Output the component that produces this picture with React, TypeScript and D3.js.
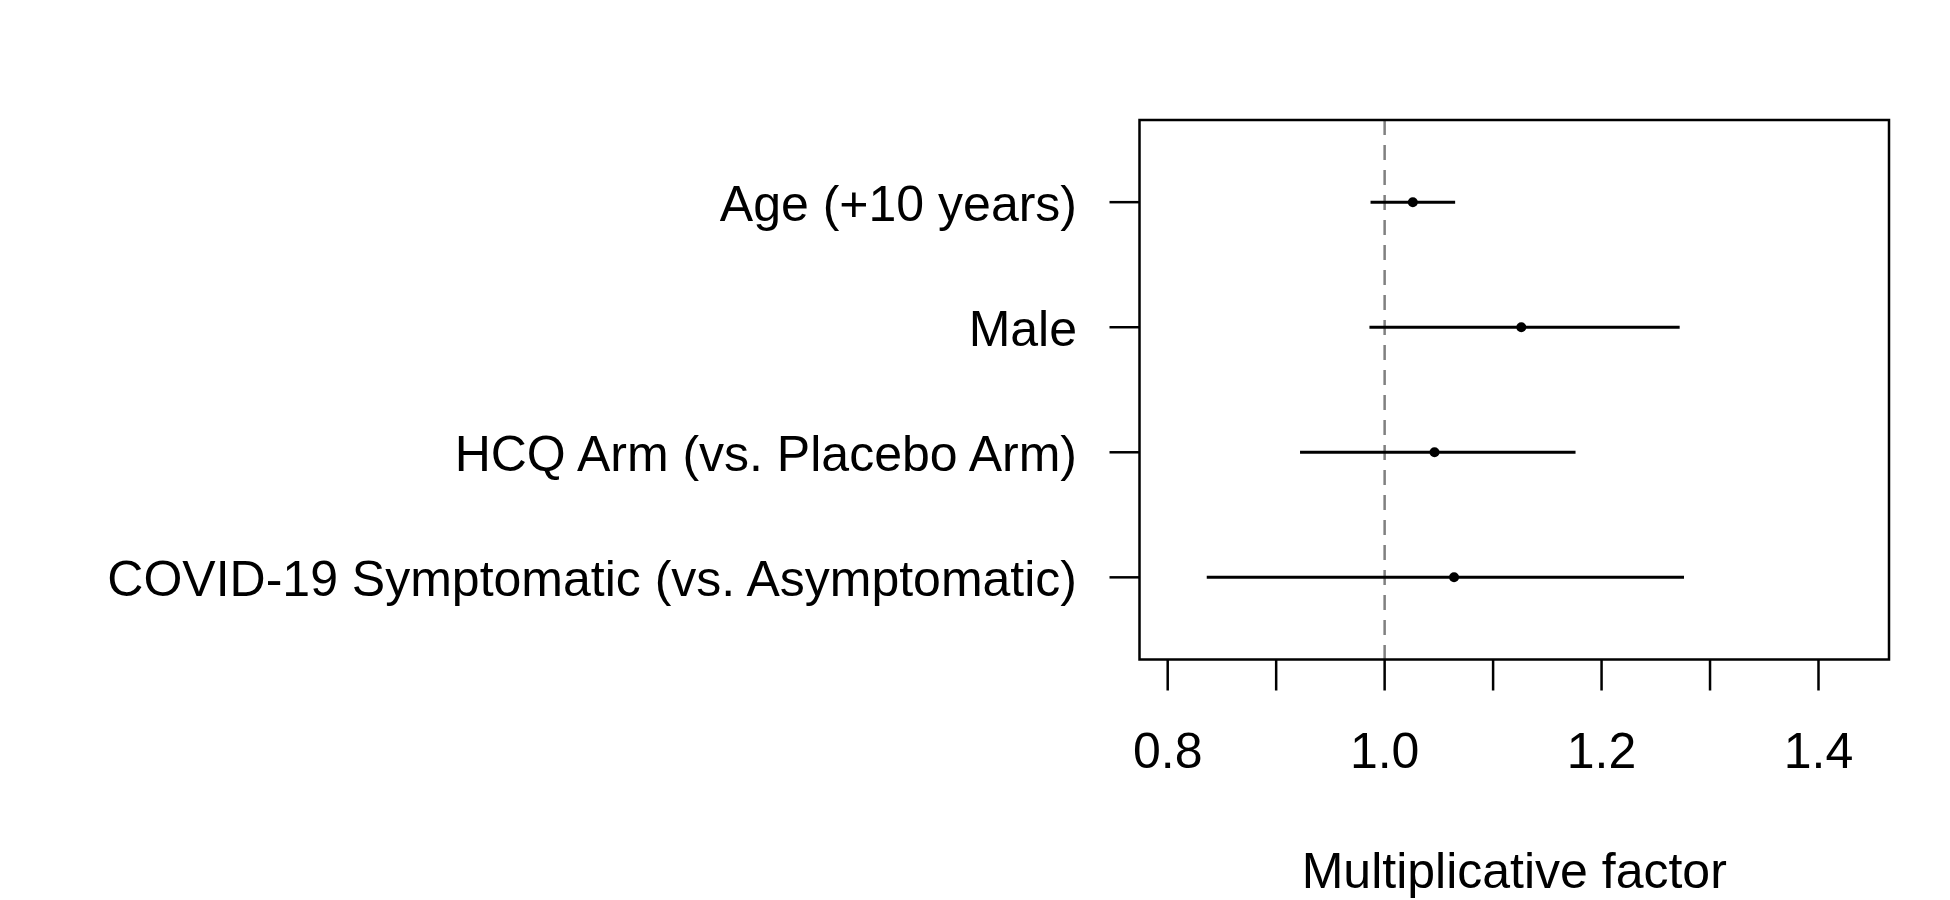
import React, { useRef, useEffect } from "react";
import * as d3 from "d3";

// Estimates
const labels = [
  "Age (+10 years)",
  "Male",
  "HCQ Arm (vs. Placebo Arm)",
  "COVID-19 Symptomatic (vs. Asymptomatic)",
];
const estimates = [1.026, 1.126, 1.046, 1.064];
const lower = [0.987, 0.986, 0.922, 0.836];
const upper = [1.065, 1.272, 1.176, 1.276];

const tickValues = [0.8, 0.9, 1.0, 1.1, 1.2, 1.3, 1.4];
const labeledTicks = [0.8, 1.0, 1.2, 1.4];
const xDomain = [0.774, 1.465];
const refValue = 1.0;
const xTitle = "Multiplicative factor";

const App: React.FC = () => {
  const svgRef = useRef<SVGSVGElement>(null);

  useEffect(() => {
    const width = 1950;
    const height = 900;
    const left = 1139.5;
    const right = 1889;
    const top = 120;
    const bottom = 659.5;
    const font = "'Liberation Sans', Arial, Helvetica, sans-serif";

    const svg = d3
      .select(svgRef.current)
      .attr("width", width)
      .attr("height", height)
      .attr("viewBox", [0, 0, width, height])
      .style("position", "absolute")
      .style("left", "0px")
      .style("top", "0px")
      .style("background", "white");

    svg.selectAll("*").remove();

    const x = d3.scaleLinear().domain(xDomain).range([left, right]);
    const y = d3
      .scalePoint<string>()
      .domain(labels)
      .range([top, bottom])
      .padding(0.657);

    const rows = labels.map((name, i) => ({
      name,
      est: estimates[i],
      lo: lower[i],
      hi: upper[i],
    }));

    // reference line at 1
    svg
      .append("line")
      .attr("x1", x(refValue))
      .attr("x2", x(refValue))
      .attr("y1", top)
      .attr("y2", bottom)
      .attr("stroke", "#808080")
      .attr("stroke-width", 2.5)
      .attr("stroke-dasharray", "15,10");

    // confidence intervals
    svg
      .append("g")
      .attr("stroke", "black")
      .attr("stroke-width", 3)
      .selectAll("line")
      .data(rows)
      .join("line")
      .attr("x1", (d) => x(d.lo))
      .attr("x2", (d) => x(d.hi))
      .attr("y1", (d) => y(d.name)!)
      .attr("y2", (d) => y(d.name)!);

    // point estimates
    svg
      .append("g")
      .selectAll("circle")
      .data(rows)
      .join("circle")
      .attr("cx", (d) => x(d.est))
      .attr("cy", (d) => y(d.name)!)
      .attr("r", 5)
      .attr("fill", "black");

    // plot box
    svg
      .append("rect")
      .attr("x", left)
      .attr("y", top)
      .attr("width", right - left)
      .attr("height", bottom - top)
      .attr("fill", "none")
      .attr("stroke", "black")
      .attr("stroke-width", 2.5);

    // x axis ticks
    const xAxis = svg.append("g");
    xAxis
      .selectAll("line")
      .data(tickValues)
      .join("line")
      .attr("x1", (d) => x(d))
      .attr("x2", (d) => x(d))
      .attr("y1", bottom)
      .attr("y2", bottom + 31)
      .attr("stroke", "black")
      .attr("stroke-width", 2.5);

    xAxis
      .selectAll("text")
      .data(labeledTicks)
      .join("text")
      .attr("x", (d) => x(d))
      .attr("y", 768)
      .attr("text-anchor", "middle")
      .attr("font-family", font)
      .attr("font-size", 50)
      .attr("fill", "black")
      .text((d) => d3.format(".1f")(d));

    // y axis ticks and labels
    const yAxis = svg.append("g");
    yAxis
      .selectAll("line")
      .data(labels)
      .join("line")
      .attr("x1", left - 30)
      .attr("x2", left)
      .attr("y1", (d) => y(d)!)
      .attr("y2", (d) => y(d)!)
      .attr("stroke", "black")
      .attr("stroke-width", 2.5);

    yAxis
      .selectAll("text")
      .data(labels)
      .join("text")
      .attr("x", 1077)
      .attr("y", (d) => y(d)! + 19)
      .attr("text-anchor", "end")
      .attr("font-family", font)
      .attr("font-size", 50)
      .attr("fill", "black")
      .text((d) => d);

    // axis title
    svg
      .append("text")
      .attr("x", (left + right) / 2)
      .attr("y", 888)
      .attr("text-anchor", "middle")
      .attr("font-family", font)
      .attr("font-size", 50)
      .attr("fill", "black")
      .text(xTitle);
  }, []);

  return <svg ref={svgRef}></svg>;
};

export default App;
